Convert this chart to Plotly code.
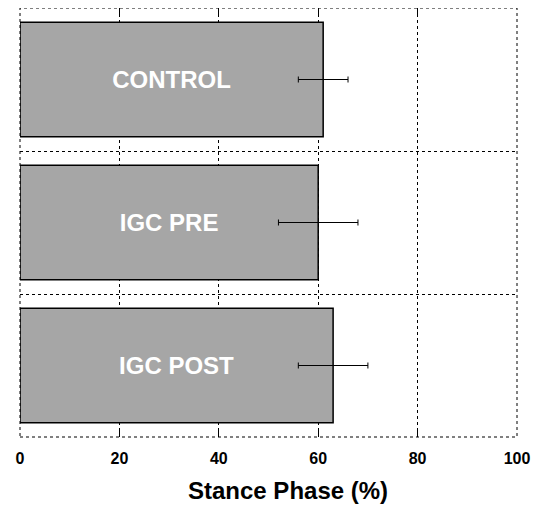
import plotly.graph_objects as go

categories = ["CONTROL", "IGC PRE", "IGC POST"]
stance_phase = [61, 60, 63]
stance_sd = [5, 8, 7]
x_ticks = [0, 20, 40, 60, 80, 100]
x_title = "Stance Phase (%)"

FONT = "Liberation Sans, Arial, sans-serif"
ypos = list(range(len(categories)))

fig = go.Figure()
fig.add_trace(go.Bar(
    x=stance_phase,
    y=ypos,
    orientation="h",
    width=0.8,
    marker=dict(color="#a6a6a6", line=dict(color="black", width=1.5)),
    text=categories,
    textposition="inside",
    insidetextanchor="middle",
    textfont=dict(family=FONT, size=24, color="white", weight="bold"),
    error_x=dict(type="data", array=stance_sd, symmetric=True,
                 color="black", thickness=1, width=3),
    hoverinfo="skip",
))

# page body has an 8px margin, so the figure is shifted to compensate
fig.update_layout(
    width=532, height=498,
    margin=dict(l=12, r=23, t=0, b=69),
    paper_bgcolor="white", plot_bgcolor="white",
    showlegend=False,
    font=dict(family=FONT, color="black"),
    xaxis=dict(
        range=[0, 100], tickvals=x_ticks,
        showgrid=True, gridcolor="black", gridwidth=1, griddash="dot",
        zeroline=False, showline=False,
        ticks="inside", ticklen=8, tickcolor="black", tickwidth=1,
        mirror="ticks",
        tickfont=dict(family=FONT, size=16, color="black", weight="bold"),
        ticklabelstandoff=10,
    ),
    yaxis=dict(
        range=[len(categories) - 0.5, -0.5],
        tickvals=[i + 0.5 for i in range(len(categories) - 1)],
        showticklabels=False,
        showgrid=True, gridcolor="black", gridwidth=1, griddash="dot",
        zeroline=False, showline=False,
        ticks="",
    ),
    shapes=[dict(type="rect", xref="paper", yref="paper", x0=0, x1=1, y0=0, y1=1,
                 line=dict(color="black", width=1, dash="dot"), layer="above")],
    annotations=[dict(text=x_title, xref="paper", yref="paper", x=0.539, y=-0.125,
                      xanchor="center", yanchor="middle", showarrow=False,
                      font=dict(family=FONT, size=24, color="black", weight="bold"))],
)

fig.write_html("out.html")
